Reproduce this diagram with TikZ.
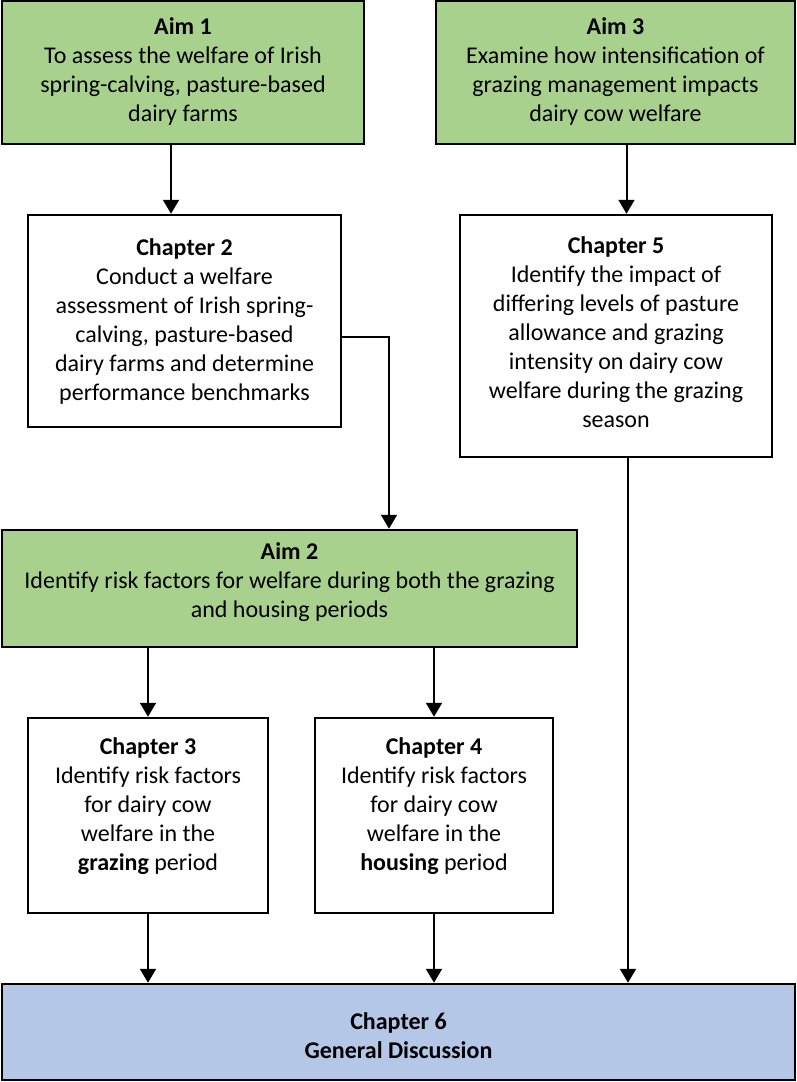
\documentclass[tikz,border=0pt]{standalone}
\usepackage{fontspec}
\setmainfont{Carlito}
\usetikzlibrary{arrows.meta,calc}
\definecolor{aimgreen}{HTML}{A9D18E}
\definecolor{discblue}{HTML}{B4C7E7}
\tikzset{
  box/.style={draw=black, line width=2.5pt, inner sep=0pt},
  aimbox/.style={box, fill=aimgreen},
  chbox/.style={box, fill=white},
  discbox/.style={box, fill=discblue},
  txt/.style={align=center, inner sep=0pt, font=\fontsize{24}{29}\selectfont},
  arr/.style={line width=2pt, -{Triangle[length=14pt,width=16pt]}}
}
\begin{document}
\begin{tikzpicture}[x=1pt,y=-1pt]
\useasboundingbox (0,0) rectangle (796,1082);
% boxes
\node[aimbox, minimum width=362pt, minimum height=143pt] (aim1) at (183,72.5) {};
\node[aimbox, minimum width=359pt, minimum height=143pt] (aim3) at (615.5,72.5) {};
\node[chbox, minimum width=313pt, minimum height=212pt] (ch2) at (184.5,321) {};
\node[chbox, minimum width=312pt, minimum height=242pt] (ch5) at (616,336) {};
\node[aimbox, minimum width=575pt, minimum height=117pt] (aim2) at (289.5,588.5) {};
\node[chbox, minimum width=240pt, minimum height=195pt] (ch3) at (148,815.5) {};
\node[chbox, minimum width=238pt, minimum height=195pt] (ch4) at (434,815.5) {};
\node[discbox, minimum width=793pt, minimum height=96pt] (ch6) at (398.5,1032) {};
% texts
\node[txt] (aim1t) at (183,71.5)
  {\textbf{Aim 1}\\To assess the welfare of Irish\\spring-calving, pasture-based\\dairy farms};
\node[txt] (aim3t) at (615.5,71.5)
  {\textbf{Aim 3}\\Examine how intensification of\\grazing management impacts\\dairy cow welfare};
\node[txt] (ch2t) at (184.5,322)
  {\textbf{Chapter 2}\\Conduct a welfare\\assessment of Irish spring-\\calving, pasture-based\\dairy farms and determine\\performance benchmarks};
\node[txt] (ch5t) at (616,332.5)
  {\textbf{Chapter 5}\\Identify the impact of\\differing levels of pasture\\allowance and grazing\\intensity on dairy cow\\welfare during the grazing\\season};
\node[txt] (aim2t) at (289.5,582)
  {\textbf{Aim 2}\\Identify risk factors for welfare during both the grazing\\and housing periods};
\node[txt] (ch3t) at (148,806.5)
  {\textbf{Chapter 3}\\Identify risk factors\\for dairy cow\\welfare in the\\\textbf{grazing} period};
\node[txt] (ch4t) at (434,806.5)
  {\textbf{Chapter 4}\\Identify risk factors\\for dairy cow\\welfare in the\\\textbf{housing} period};
\node[txt] (ch6t) at (398.5,1035.5)
  {\textbf{Chapter 6}\\\textbf{General Discussion}};
% connectors
\coordinate (xa) at (171,0);
\coordinate (xb) at (626.5,0);
\coordinate (xc) at (389,0);
\coordinate (yc) at (0,337);
\coordinate (xd) at (628,0);
\draw[arr] (aim1.south -| xa) -- (ch2.north -| xa);
\draw[arr] (aim3.south -| xb) -- (ch5.north -| xb);
\draw[arr] (ch2.east |- yc) -| (aim2.north -| xc);
\draw[arr] (aim2.south -| ch3.north) -- (ch3.north);
\draw[arr] (aim2.south -| ch4.north) -- (ch4.north);
\draw[arr] (ch3.south) -- (ch6.north -| ch3.south);
\draw[arr] (ch4.south) -- (ch6.north -| ch4.south);
\draw[arr] (ch5.south -| xd) -- (ch6.north -| xd);
\end{tikzpicture}
\end{document}
